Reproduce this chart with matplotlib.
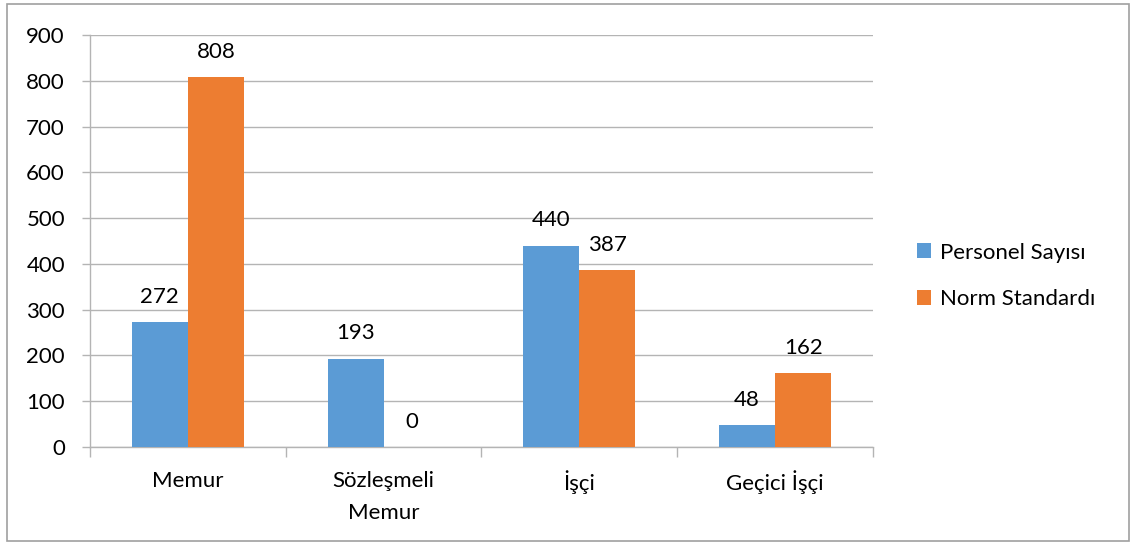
import matplotlib.pyplot as plt
import numpy as np
from matplotlib.patches import Rectangle

categories = ["Memur", "Sözleşmeli\nMemur", "İşçi", "Geçici İşçi"]
personel = [272, 193, 440, 48]
norm = [808, 0, 387, 162]
series_names = ["Personel Sayısı", "Norm Standardı"]
yticks = list(range(0, 901, 100))

BLUE = "#5B9BD5"
ORANGE = "#ED7D31"
GRID = "#B4B4B4"
FS = 16

plt.rcParams["font.family"] = ["Lato", "DejaVu Sans"]

fig = plt.figure(figsize=(11.3, 5.42), dpi=100)
ax = fig.add_axes([0.0796, 0.1753, 0.693, 0.760])

x = np.arange(len(categories))
w = 0.286
b1 = ax.bar(x - w / 2, personel, w, color=BLUE, label=series_names[0], zorder=3)
b2 = ax.bar(x + w / 2, norm, w, color=ORANGE, label=series_names[1], zorder=3)

for bars in (b1, b2):
    for bar in bars:
        h = bar.get_height()
        ax.annotate(f"{h:.0f}", (bar.get_x() + bar.get_width() / 2, h),
                    xytext=(0, 11), textcoords="offset points",
                    ha="center", va="bottom", fontsize=FS, color="black")

ax.set_xlim(-0.5, len(categories) - 0.5)
ax.set_ylim(0, 900)
ax.set_yticks(yticks)
ax.yaxis.grid(True, color=GRID, linewidth=1, zorder=0)
ax.tick_params(axis="y", length=6, width=1, color=GRID, labelsize=FS, pad=12)

ax.set_xticks(x)
ax.set_xticklabels(categories, fontsize=FS, linespacing=1.8, va="top")
ax.tick_params(axis="x", length=0, pad=17)
ax.set_xticks(np.arange(-0.5, len(categories)), minor=True)
ax.tick_params(axis="x", which="minor", length=7, width=1, color=GRID)

for side in ("top", "right"):
    ax.spines[side].set_visible(False)
for side in ("left", "bottom"):
    ax.spines[side].set_color(GRID)
    ax.spines[side].set_linewidth(1)

ax.legend(loc="center left", bbox_to_anchor=(1.03, 0.415), frameon=False,
          fontsize=FS, handlelength=0.65, handleheight=0.65,
          handletextpad=0.4, labelspacing=1.2)

fig.patches.append(Rectangle((0.006, 0.002), 0.993, 0.99, transform=fig.transFigure,
                             fill=False, edgecolor="#A0A0A0", linewidth=1.2))

fig.savefig("out.png", dpi=100)
